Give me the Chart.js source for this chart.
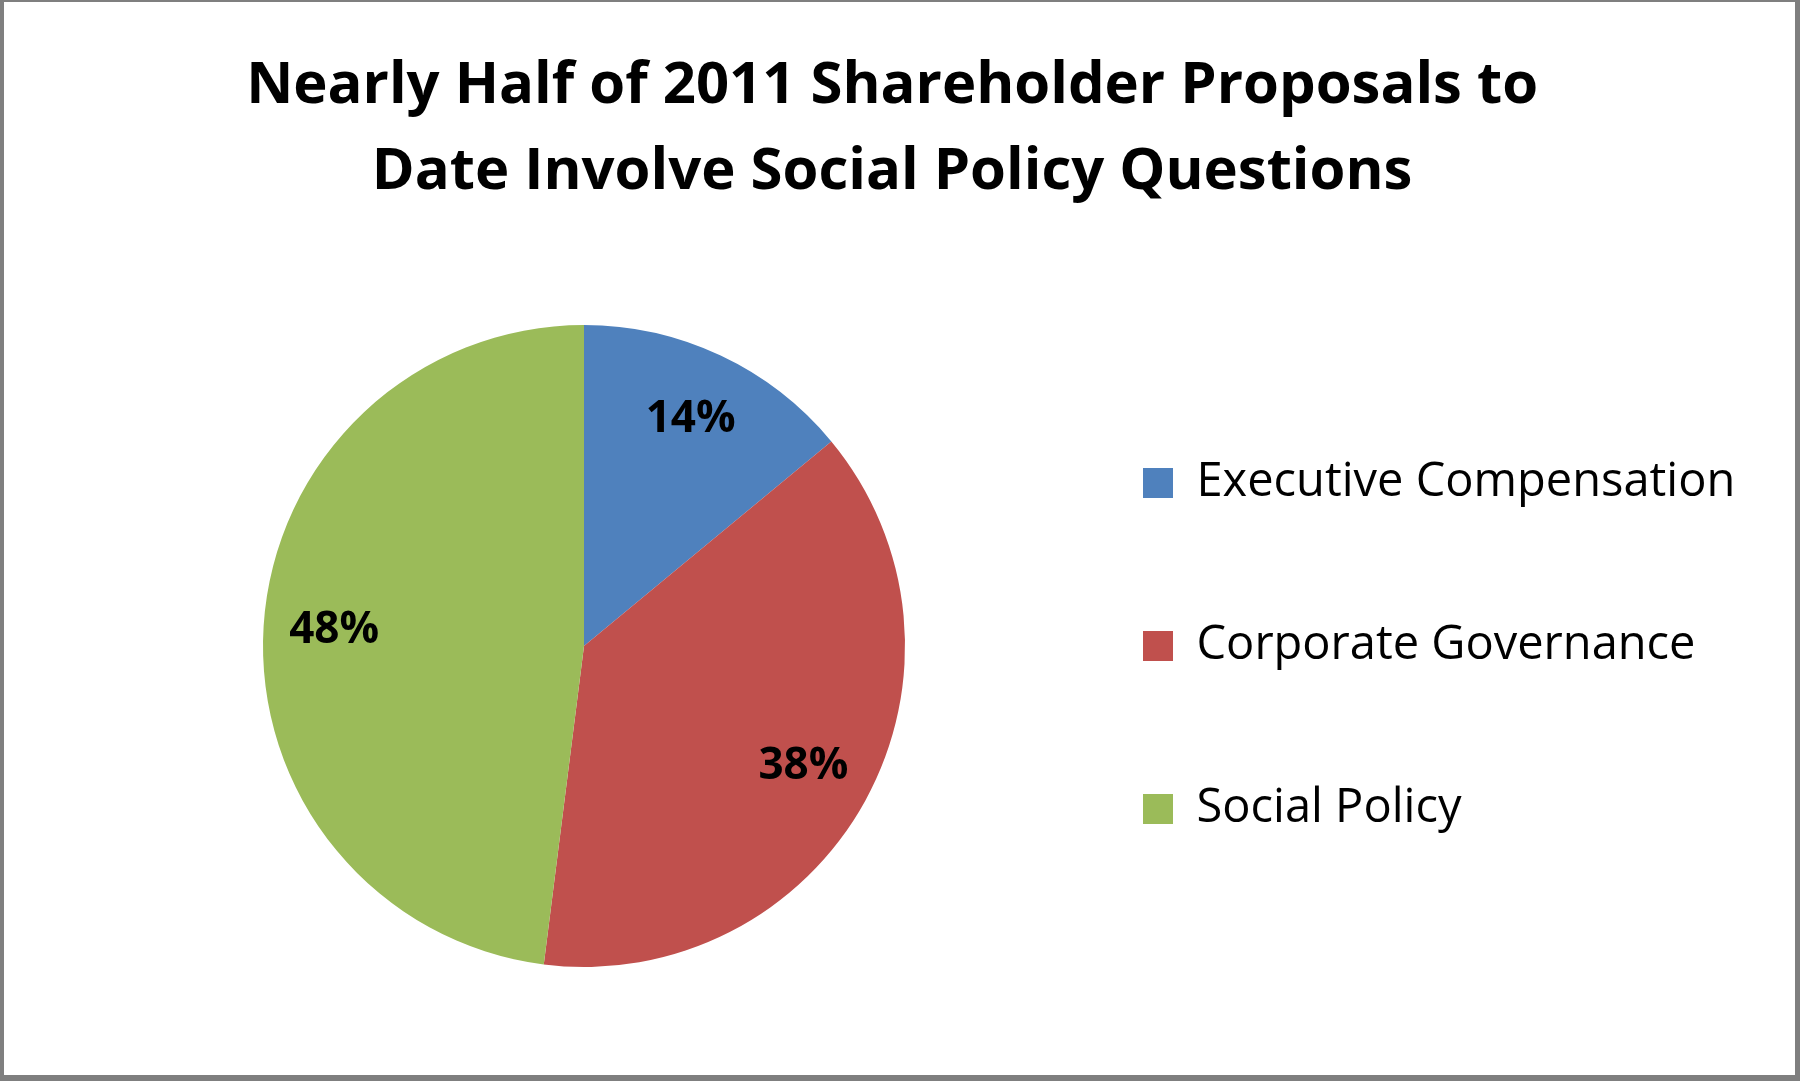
<!DOCTYPE html>
<html lang="en">
<head>
	<title>2011 Shareholder Proposals</title>
	<meta charset="utf-8">
	<script src="https://cdn.jsdelivr.net/npm/chart.js@4.4.1/dist/chart.umd.min.js"></script>
	<style type="text/css">
		html, body {
			margin: 0;
			padding: 0;
			background: #fff;
		}
		#frame {
			box-sizing: border-box;
			width: 1800px;
			height: 1081px;
			border-style: solid;
			border-color: #7f7f7f;
			border-width: 2px 5px 6px 4px;
			background: #fff;
		}
		#frame canvas {
			display: block;
		}
	</style>
</head>
<body>
<div id="frame">
	<canvas id="proposal-canvas" width="1791" height="1073"></canvas>
</div>
<script type="text/javascript">
	// chart data
	var categories = ["Executive Compensation", "Corporate Governance", "Social Policy"];
	var shares = [14, 38, 48];
	var sliceColors = ["#4F81BD", "#C0504D", "#9BBB59"];
	var titleLines = ["Nearly Half of 2011 Shareholder Proposals to", "Date Involve Social Policy Questions"];

	var FONT = "'Open Sans'";
	var legendFontSize = 47;
	var legendBox = 30;
	var legendGap = 14;      // legend padding
	var legendStep = 163;    // distance between legend rows
	var legendBoxX = 1139;   // where the first legend square should start

	var canvas = document.querySelector("#proposal-canvas");
	var ctx = canvas.getContext("2d");

	// widest legend label decides how far the legend sits from the right edge
	ctx.font = legendFontSize + "px " + FONT;
	var widest = 0;
	categories.forEach(function(c) {
		widest = Math.max(widest, ctx.measureText(c).width);
	});
	var itemWidth = legendBox + legendFontSize / 2 + widest;
	var padRight = Math.max(0, canvas.width - legendBoxX - itemWidth - 10);
	var padLeft = 2 * 580 - (legendBoxX - legendGap);

	// percent labels inside each slice
	var sliceLabels = {
		id: "sliceLabels",
		afterDatasetsDraw: function(chart) {
			var c = chart.ctx;
			var meta = chart.getDatasetMeta(0);
			c.save();
			c.font = "bold 44px " + FONT;
			c.fillStyle = "#000";
			c.textAlign = "center";
			c.textBaseline = "middle";
			meta.data.forEach(function(arc, i) {
				var p = arc.getProps(["x", "y", "startAngle", "endAngle", "outerRadius"], true);
				var mid = (p.startAngle + p.endAngle) / 2;
				var r = p.outerRadius * 0.78;
				c.fillText(shares[i] + "%", p.x + Math.cos(mid) * r, p.y + Math.sin(mid) * r);
			});
			c.restore();
		}
	};

	var baseLabels = Chart.overrides.doughnut.plugins.legend.labels.generateLabels;

	new Chart(ctx, {
		type: "pie",
		data: {
			labels: categories,
			datasets: [{
				data: shares,
				backgroundColor: sliceColors,
				borderWidth: 0
			}]
		},
		plugins: [sliceLabels],
		options: {
			responsive: false,
			animation: false,
			events: [],
			layout: {
				padding: { left: padLeft, right: padRight, top: 0, bottom: 108 }
			},
			plugins: {
				tooltip: { enabled: false },
				title: {
					display: true,
					text: titleLines,
					color: "#000",
					font: { family: FONT, size: 58, weight: "bold", lineHeight: "86px" },
					padding: { top: 41, bottom: 110 }
				},
				legend: {
					position: "right",
					fullSize: false,
					labels: {
						color: "#000",
						font: { family: FONT, size: legendFontSize, lineHeight: (legendStep - legendGap) + "px" },
						boxWidth: legendBox,
						boxHeight: legendBox,
						padding: legendGap,
						// rows before the last one get the tall row height
						generateLabels: function(chart) {
							var items = baseLabels(chart);
							items.forEach(function(item, i) {
								if (i < items.length - 1) {
									item.text = [item.text];
								}
							});
							return items;
						}
					}
				}
			}
		}
	});
</script>
</body>
</html>
